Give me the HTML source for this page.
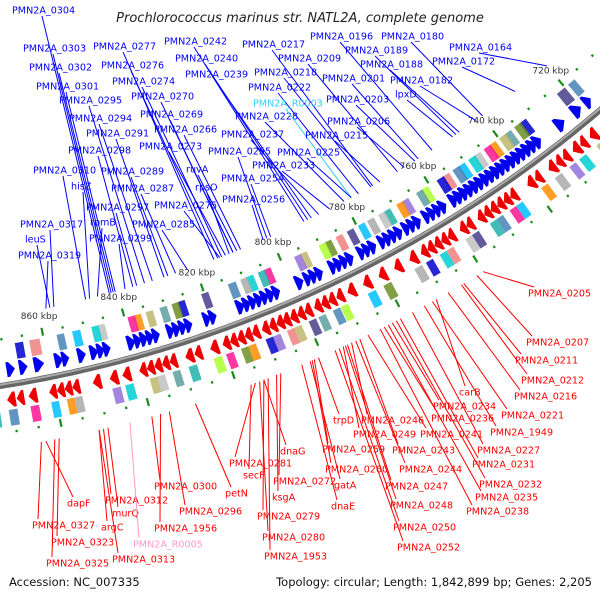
<!DOCTYPE html>
<html><head><meta charset="utf-8">
<style>
html,body{margin:0;padding:0;background:#fff;}
svg{display:block;font-family:"DejaVu Sans","Liberation Sans",sans-serif;}
</style></head>
<body>
<svg id="chart" width="600" height="600" viewBox="0 0 600 600" xmlns="http://www.w3.org/2000/svg">
<rect x="0" y="0" width="600" height="600" fill="#fff"/>
<text x="300" y="22" text-anchor="middle" font-size="13" font-style="italic" fill="#222">Prochlorococcus marinus str. NATL2A, complete genome</text>
<g id="ticks"></g>
<g id="genes"></g>
<g id="labels"></g>
<text x="9" y="586" font-size="11.5" fill="#111">Accession: NC_007335</text>
<text x="592" y="586" text-anchor="end" font-size="11.5" fill="#111">Topology: circular; Length: 1,842,899 bp; Genes: 2,205</text>
</svg>
<script>
// ---- data ----
const tickKbp = [720,740,760,780,800,820,840,860];
const tickLabels = ["720 kbp","740 kbp","760 kbp","780 kbp","800 kbp","820 kbp","840 kbp","860 kbp"];
const blueGeneStarts = [717,720,725,732,733.5,735,736.5,738,739.5,741,742.5,744,745.5,747,748.5,750,751.5,753,754.5,756,759,760.5,762,763.5,766,767.5,769,771,772.5,774,775.5,778,779.5,781,784,785.5,787,788.5,792,793.5,795,797,803,804.5,806,807.5,809,810.5,812,819,820.5,825,826.5,828,829.5,833,834.5,836,837.5,839,845,846.5,848,851,855,856.5,861,865,868,872];
const blueGeneEnds   = [719,722.5,727.5,734,735.5,737,738.5,740,741.5,743,744.5,746,747.5,749,750.5,752,753.5,755,756.5,758,760.8,762.3,763.8,765.3,767.8,769.3,770.8,772.8,774.3,775.8,777.3,779.8,781.3,782.8,785.8,787.3,788.8,790.3,793.8,795.3,796.8,799,804.8,806.3,807.8,809.3,810.8,812.3,814,820.8,822.3,826.8,828.3,829.8,831.3,834.8,836.3,837.8,839.3,841,846.8,848.3,850,853,856.8,858.5,863.5,867,870,875];
const redGeneStarts = [721,724,726,729,731,733,737,739,744,745.8,747.6,749.4,751.2,753,756,757.8,761,762.8,764.6,766.4,768.2,771,775,779,783,787,790,792,793.8,795.6,798,799.8,801.6,803.4,805,806.8,808.6,811,812.8,814.6,816.4,818.2,821,825,827,831,832.8,834.6,836.4,838.2,842,845,849,854,855.8,857.6,859.4,864,867,869,873];
const redGeneEnds   = [723,725.8,728,730.8,732.8,735,738.8,741,745.8,747.6,749.4,751.2,753,754.8,757.8,759.6,762.8,764.6,766.4,768.2,770,773,777,781,785,789,791.8,793.8,795.6,797.4,799.8,801.6,803.4,805.2,806.8,808.6,810.4,812.8,814.6,816.4,818.2,820,823,826.8,829,832.8,834.6,836.4,838.2,840,844,847,851,855.8,857.6,859.4,861.2,866,868.8,871,875];
const blueLabelNames = ["PMN2A_0304","PMN2A_0303","PMN2A_0302","PMN2A_0301","PMN2A_0295","PMN2A_0294","PMN2A_0291","PMN2A_0298","PMN2A_0310","hisZ","PMN2A_0317","rpmB","leuS","PMN2A_0319","PMN2A_0297","PMN2A_0299","PMN2A_0277","PMN2A_0276","PMN2A_0274","PMN2A_0270","PMN2A_0269","PMN2A_0266","PMN2A_0273","PMN2A_0289","PMN2A_0287","PMN2A_0285","PMN2A_0275","ruvA","rpsO","PMN2A_0242","PMN2A_0240","PMN2A_0239","PMN2A_0228","PMN2A_0237","PMN2A_0255","PMN2A_0254","PMN2A_0256","PMN2A_0217","PMN2A_0196","PMN2A_0180","PMN2A_0164","PMN2A_0209","PMN2A_0189","PMN2A_0172","PMN2A_0218","PMN2A_0188","PMN2A_0201","PMN2A_0182","PMN2A_0222","lpxD","PMN2A_R0003","PMN2A_0203","PMN2A_0206","PMN2A_0215","PMN2A_0225","PMN2A_0233"];
const blueLabelKbp = [842,841.5,841,840.5,833,831,828,836,848,847,856,845,857,858,835,838,815,814,813,810,810,808,812,827,825,822,813.5,809,811,791,790,789,780,787,801,800,802,772,755,740,720,765,748,730,772.5,747,759,742,776,749,778,760,763,770,778,784];
const blueLabelX = [12,23,29,36,59,69,86,68,33,71,20,90,25,18,86,89,93,101,112,131,140,154,139,101,111,132,154,186,195,164,175,185,235,221,208,221,222,242,310,381,449,278,345,432,254,360,322,390,248,395,253,326,327,305,277,252];
const blueLabelY = [10,48,67,86,100,118,133,150,170,186,224,222,239,255,207,238,46,65,81,96,114,129,146,171,188,224,205,169,187,41,58,74,116,134,151,178,199,44,36,36,47,58,50,61,72,64,78,80,87,94,103,99,121,135,152,165];
const redLabelNames = ["PMN2A_0281","secF","dnaG","PMN2A_0300","petN","PMN2A_0312","dapF","murQ","PMN2A_0296","PMN2A_0327","argC","PMN2A_1956","PMN2A_0323","PMN2A_R0005","PMN2A_0325","PMN2A_0313","PMN2A_0272","ksgA","PMN2A_0279","PMN2A_0280","PMN2A_1953","PMN2A_0205","PMN2A_0207","PMN2A_0211","PMN2A_0212","PMN2A_0216","carB","PMN2A_0234","PMN2A_0221","PMN2A_0236","PMN2A_0246","trpD","PMN2A_1949","PMN2A_0249","PMN2A_0241","PMN2A_0259","PMN2A_0243","PMN2A_0227","PMN2A_0231","PMN2A_0260","PMN2A_0244","gatA","PMN2A_0247","PMN2A_0232","PMN2A_0235","dnaE","PMN2A_0248","PMN2A_0238","PMN2A_0250","PMN2A_0252"];
const redLabelKbp = [816,817,814,840,830,851,864,850,836,865,852,838,861,845,862,852,810,811,814,815,813,760,761.6,765,765.6,769,772,783,773,785,793,801,775,795,789,802,791,778,781,802.5,792,803,794,782,784,805,794.5,786,796,797];
const redLabelX = [229,243,280,154,225,105,67,112,179,32,101,154,51,133,46,112,273,272,257,262,264,528,526,515,521,514,459,433,501,431,361,333,490,353,420,322,392,477,472,325,399,334,385,479,475,331,390,466,393,397];
const redLabelY = [463,475,451,486,493,500,503,513,511,525,527,528,542,544,563,559,481,497,516,537,556,293,342,360,380,396,392,406,415,418,420,420,432,434,434,449,450,450,464,469,469,485,486,484,497,506,505,511,527,547];

// ---- geometry ----
const CX=-190, CY=-817, R=1218;
function ang(k){ return (50.15+(k-720)*0.203)*Math.PI/180; }
function pt(k,r){ const a=ang(k); return [CX+r*Math.cos(a), CY+r*Math.sin(a)]; }
const NS='http://www.w3.org/2000/svg';
function mk(tag,attrs,parent){ const e=document.createElementNS(NS,tag); for(const k in attrs) e.setAttribute(k,attrs[k]); parent.appendChild(e); return e; }
const gT=document.getElementById('ticks'), gG=document.getElementById('genes'), gL=document.getElementById('labels');

(function(){
  let d=''; for(let k=700;k<=885;k+=1){ const p=pt(k,R); d+=(k===700?'M':'L')+p[0].toFixed(1)+','+p[1].toFixed(1); }
  const b=mk('path',{d:d,fill:'none',stroke:'#666','stroke-width':6},gG);
  
  
  const b2=mk('path',{d:d,fill:'none',stroke:'#aaa','stroke-width':2,transform:'translate(-0.6,-1.2)'},gG);
  
  
})();

for(let k=700;k<=885;k+=5){
  const major = (k%20)===0;
  [R-46,R+47].forEach(function(r){
    const len = major?4:1.2;
    const p1=pt(k,r-len), p2=pt(k,r+len);
    const l=mk('line',{x1:p1[0],y1:p1[1],x2:p2[0],y2:p2[1],stroke:'#1a8a1a','stroke-width':2.2},gT);
    
    
  });
}
tickKbp.forEach(function(k,i){
  const p=pt(k,R-62);
  const t=mk('text',{x:p[0],y:p[1]+3,'text-anchor':'middle','font-size':9,fill:'#333'},gT);
  t.textContent=tickLabels[i];
  
  
});

const palette=['#4682b4','#00ced1','#ff1493','#bdb76b','#6b8e23','#483d8b','#a9a9a9','#20b2aa','#9370db','#adff2f','#f08080','#00bfff','#c0c0c0','#ff8c00','#5f9ea0','#0000cd'];
function arrow(s,e,r,h,headAtStart,color){
  const len=e-s, hl=Math.min(len*0.7,2.4);
  let pts;
  if(headAtStart){
    pts=[pt(e,r-h/2),pt(e,r+h/2),pt(s+hl,r+h/2),pt(s,r),pt(s+hl,r-h/2)];
  } else {
    pts=[pt(s,r-h/2),pt(s,r+h/2),pt(e-hl,r+h/2),pt(e,r),pt(e-hl,r-h/2)];
  }
  return mk('polygon',{points:pts.map(p=>p[0].toFixed(1)+','+p[1].toFixed(1)).join(' '),fill:color},gG);
}
function box(s,e,r,h,color){
  const pts=[pt(s,r-h/2),pt(s,r+h/2),pt(e,r+h/2),pt(e,r-h/2)];
  return mk('polygon',{points:pts.map(p=>p[0].toFixed(1)+','+p[1].toFixed(1)).join(' '),fill:color,'fill-opacity':0.85},gG);
}
blueGeneStarts.forEach(function(s,i){
  const e=blueGeneEnds[i];
  const a=arrow(s,e,R-15,15,true,'#0000ee');
  
  
  if(i%3!==2){
    const b=box(s,e,R-32,16,palette[(i*5)%palette.length]);
    
    
  }
});
redGeneStarts.forEach(function(s,i){
  const e=redGeneEnds[i];
  const a=arrow(s,e,R+15,15,false,'#ee0000');
  
  
  if(i%3!==1){
    const b=box(s,e,R+33,16,palette[(i*7+3)%palette.length]);
    
    
  }
});

function charW(n){ return n.length*6.0; }
blueLabelNames.forEach(function(n,i){
  const col = n.indexOf('R0')>=0 ? '#33ccff' : '#0000ff';
  const x=blueLabelX[i], y=blueLabelY[i];
  const p=pt(blueLabelKbp[i],R-68);
  const l=mk('line',{x1:x+charW(n)/2,y1:y+6,x2:p[0],y2:p[1],stroke:col,'stroke-width':1},gL);
  
  
  const t=mk('text',{x:x,y:y+3.5,'font-size':9.6,fill:col},gL);
  t.textContent=n;
  
  
});
redLabelNames.forEach(function(n,i){
  const col = n.indexOf('R0')>=0 ? '#ff99cc' : '#ff0000';
  const x=redLabelX[i], y=redLabelY[i];
  const p=pt(redLabelKbp[i],R+62);
  const l=mk('line',{x1:p[0],y1:p[1],x2:x+6,y2:y-6,stroke:col,'stroke-width':1},gL);
  
  
  const t=mk('text',{x:x,y:y+3.5,'font-size':9.6,fill:col},gL);
  t.textContent=n;
  
  
});
</script>
</body></html>
